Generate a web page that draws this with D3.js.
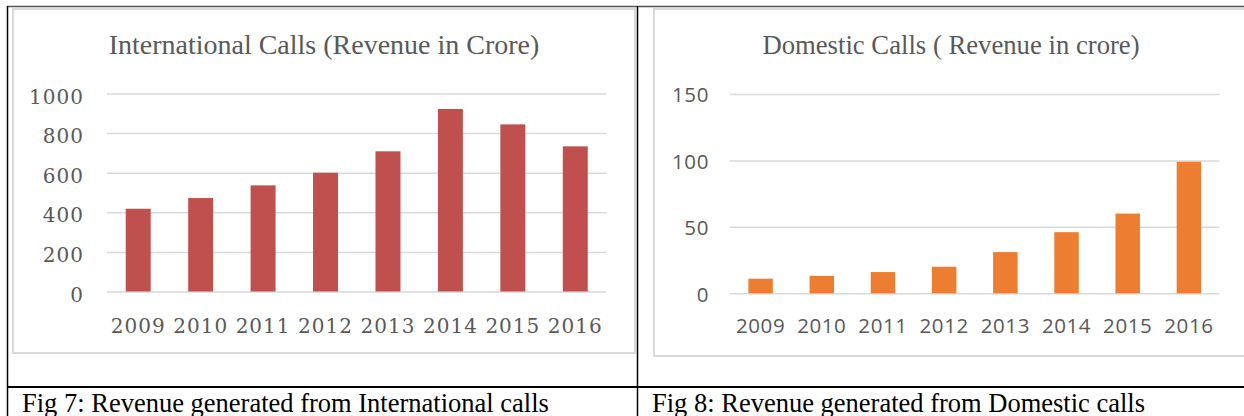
<!DOCTYPE html>
<html>
<head>
<meta charset="utf-8">
<script src="https://cdn.jsdelivr.net/npm/d3@7"></script>
<style>
  html, body { margin: 0; padding: 0; background: #fff; }
  svg { display: block; }
</style>
</head>
<body>
<div id="figure"></div>
<script>
const years = ["2009", "2010", "2011", "2012", "2013", "2014", "2015", "2016"];
const intlRevenue = [418, 472, 536, 600, 708, 922, 844, 733];
const domesticRevenue = [11, 13, 16, 20, 31, 46, 60, 99];
const intlTicks = [0, 200, 400, 600, 800, 1000];
const domesticTicks = [0, 50, 100, 150];
const titles = ["International Calls (Revenue in Crore)", "Domestic Calls ( Revenue in crore)"];
const captions = ["Fig 7: Revenue generated from International calls", "Fig 8: Revenue generated from Domestic calls"];

const svg = d3.select("#figure")
  .append("svg")
  .attr("width", 1244)
  .attr("height", 416);

// chart boxes (light grey frame of each spreadsheet chart)
svg.append("rect")
  .attr("x", 13).attr("y", 9).attr("width", 622).attr("height", 344)
  .attr("fill", "#fff").attr("stroke", "#d9d9d9").attr("stroke-width", 2);
svg.append("rect")
  .attr("x", 654).attr("y", 9).attr("width", 610).attr("height", 347)
  .attr("fill", "#fff").attr("stroke", "#d9d9d9").attr("stroke-width", 2);

function drawChart(opts) {
  const x = d3.scaleBand()
    .domain(years)
    .range([opts.left, opts.right])
    .paddingInner(0.6)
    .paddingOuter(0.3);

  const y = d3.scaleLinear()
    .domain([0, d3.max(opts.ticks)])
    .range([opts.bottom, opts.top]);

  const g = svg.append("g");

  // gridlines + y labels
  const yAxis = g.append("g")
    .attr("transform", `translate(${opts.left},0)`)
    .call(d3.axisLeft(y)
      .tickValues(opts.ticks)
      .tickFormat(d3.format("d"))
      .tickSize(-(opts.right - opts.left))
      .tickPadding(opts.yPad));
  yAxis.select(".domain").remove();
  yAxis.selectAll(".tick line")
    .attr("stroke", "#d9d9d9")
    .attr("stroke-width", 1.5);
  yAxis.selectAll(".tick text")
    .attr("fill", "#595959")
    .attr("font-family", opts.labelFont)
    .attr("font-size", opts.labelSize)
    .attr("letter-spacing", opts.spacing)
    .attr("dy", opts.yDy);

  // x labels
  const xAxis = g.append("g")
    .attr("transform", `translate(0,${opts.bottom})`)
    .call(d3.axisBottom(x).tickSize(0));
  xAxis.select(".domain").remove();
  xAxis.selectAll(".tick text")
    .attr("fill", "#595959")
    .attr("font-family", opts.labelFont)
    .attr("font-size", opts.labelSize)
    .attr("letter-spacing", opts.spacing)
    .attr("y", opts.xLabelOffset)
    .attr("dy", null);

  g.append("g")
    .selectAll("rect")
    .data(opts.values)
    .join("rect")
    .attr("x", (d, i) => x(years[i]))
    .attr("y", d => y(d))
    .attr("width", x.bandwidth())
    .attr("height", d => y(0) - y(d))
    .attr("fill", opts.color);

  g.append("text")
    .attr("x", opts.titleX)
    .attr("y", 54)
    .attr("text-anchor", "middle")
    .attr("font-family", "'Liberation Serif', serif")
    .attr("font-size", opts.titleSize)
    .attr("fill", "#595959")
    .text(opts.title);
}

drawChart({
  values: intlRevenue, ticks: intlTicks, title: titles[0],
  left: 107, right: 606.5, top: 93.5, bottom: 291.5,
  color: "#c0504d", labelFont: "'DejaVu Serif', serif", labelSize: "20px",
  spacing: "1px", yPad: 23, yDy: "0.48em", xLabelOffset: 41.5,
  titleX: 324, titleSize: "28px"
});

drawChart({
  values: domesticRevenue, ticks: domesticTicks, title: titles[1],
  left: 730, right: 1219.5, top: 94, bottom: 293.3,
  color: "#ed7d31", labelFont: "'Open Sans', sans-serif", labelSize: "20.5px",
  spacing: "0.6px", yPad: 21, yDy: "0.385em", xLabelOffset: 39.7,
  titleX: 951, titleSize: "26.7px"
});

// document table lines
svg.append("line")
  .attr("x1", 7).attr("x2", 1244).attr("y1", 6.5).attr("y2", 6.5)
  .attr("stroke", "#555").attr("stroke-width", 1.5);
svg.append("line")
  .attr("x1", 7).attr("x2", 1244).attr("y1", 387).attr("y2", 387)
  .attr("stroke", "#000").attr("stroke-width", 2);
svg.append("line")
  .attr("x1", 7.5).attr("x2", 7.5).attr("y1", 6).attr("y2", 416)
  .attr("stroke", "#000").attr("stroke-width", 1.5);
svg.append("line")
  .attr("x1", 637.5).attr("x2", 637.5).attr("y1", 6).attr("y2", 416)
  .attr("stroke", "#000").attr("stroke-width", 1.5);

svg.selectAll(".caption")
  .data(captions)
  .join("text")
  .attr("class", "caption")
  .attr("x", (d, i) => i === 0 ? 22 : 652)
  .attr("y", 411.5)
  .attr("font-family", "'Liberation Serif', serif")
  .attr("font-size", "26.5px")
  .attr("fill", "#000")
  .text(d => d);
</script>
</body>
</html>
